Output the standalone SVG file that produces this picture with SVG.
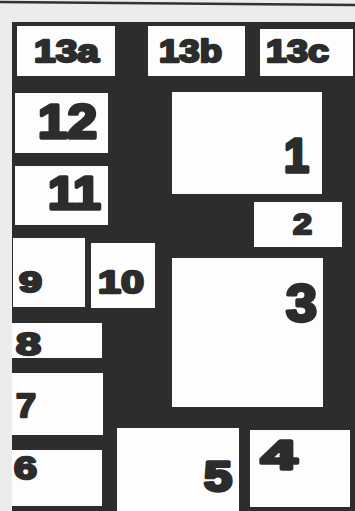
<svg xmlns="http://www.w3.org/2000/svg" width="355" height="511" viewBox="0 0 355 511">
<style>
.box{fill:#fdfdfd}
.lbl{font-family:"Liberation Sans",Arial,sans-serif;font-weight:bold;fill:#2c2c2c;stroke:#2c2c2c;stroke-width:2.4;stroke-linejoin:round}
.big{stroke-width:3.4}
</style>
<rect x="0" y="0" width="355" height="511" fill="#ececec"/>
<path d="M0 2 L355 5" stroke="#333" stroke-width="2.5" fill="none"/>
<rect x="12" y="22" width="343" height="489" fill="#2d2d2d"/>
<g id="n13a"><rect class="box" x="17" y="26" width="98" height="50"/><text class="lbl" x="34" y="62" font-size="32" textLength="65" lengthAdjust="spacingAndGlyphs">13a</text></g>
<g id="n13b"><rect class="box" x="148" y="26" width="97" height="50"/><text class="lbl" x="159" y="62" font-size="32" textLength="63" lengthAdjust="spacingAndGlyphs">13b</text></g>
<g id="n13c"><rect class="box" x="260" y="29" width="93" height="47"/><text class="lbl" x="266" y="62" font-size="32" textLength="63" lengthAdjust="spacingAndGlyphs">13c</text></g>
<g id="n12"><rect class="box" x="15" y="93" width="93" height="60"/><text class="lbl big" x="38" y="138" font-size="48" textLength="59" lengthAdjust="spacingAndGlyphs">12</text></g>
<g id="n11"><rect class="box" x="15" y="166" width="93" height="59"/><text class="lbl big" x="48" y="209" font-size="47" textLength="53" lengthAdjust="spacingAndGlyphs">11</text></g>
<g id="n1"><rect class="box" x="172" y="92" width="150" height="102"/><text class="lbl big" x="284" y="172" font-size="48" textLength="25" lengthAdjust="spacingAndGlyphs">1</text></g>
<g id="n2"><rect class="box" x="254" y="202" width="88" height="45"/><text class="lbl" x="293" y="234" font-size="30" textLength="19" lengthAdjust="spacingAndGlyphs">2</text></g>
<g id="n9"><rect class="box" x="13" y="238" width="72" height="69"/><text class="lbl" x="19" y="292" font-size="30" textLength="23" lengthAdjust="spacingAndGlyphs">9</text></g>
<g id="n10"><rect class="box" x="91" y="243" width="64" height="65"/><text class="lbl" x="98" y="293" font-size="31" textLength="46" lengthAdjust="spacingAndGlyphs">10</text></g>
<g id="n3"><rect class="box" x="172" y="258" width="151" height="149"/><text class="lbl big" x="286" y="321" font-size="52" textLength="31" lengthAdjust="spacingAndGlyphs">3</text></g>
<g id="n8"><rect class="box" x="12" y="323" width="90" height="35"/><text class="lbl" x="16" y="355" font-size="31" textLength="25" lengthAdjust="spacingAndGlyphs">8</text></g>
<g id="n7"><rect class="box" x="12" y="373" width="91" height="62"/><text class="lbl" x="16" y="417" font-size="34" textLength="20" lengthAdjust="spacingAndGlyphs">7</text></g>
<g id="n6"><rect class="box" x="12" y="450" width="90" height="56"/><text class="lbl" x="14" y="479" font-size="31" textLength="23" lengthAdjust="spacingAndGlyphs">6</text></g>
<g id="n5"><rect class="box" x="117" y="428" width="122" height="83"/><text class="lbl big" x="204" y="491" font-size="42" textLength="28" lengthAdjust="spacingAndGlyphs">5</text></g>
<g id="n4"><rect class="box" x="250" y="430" width="100" height="77"/><text class="lbl big" x="261" y="469" font-size="41" textLength="36" lengthAdjust="spacingAndGlyphs">4</text></g>
</svg>
